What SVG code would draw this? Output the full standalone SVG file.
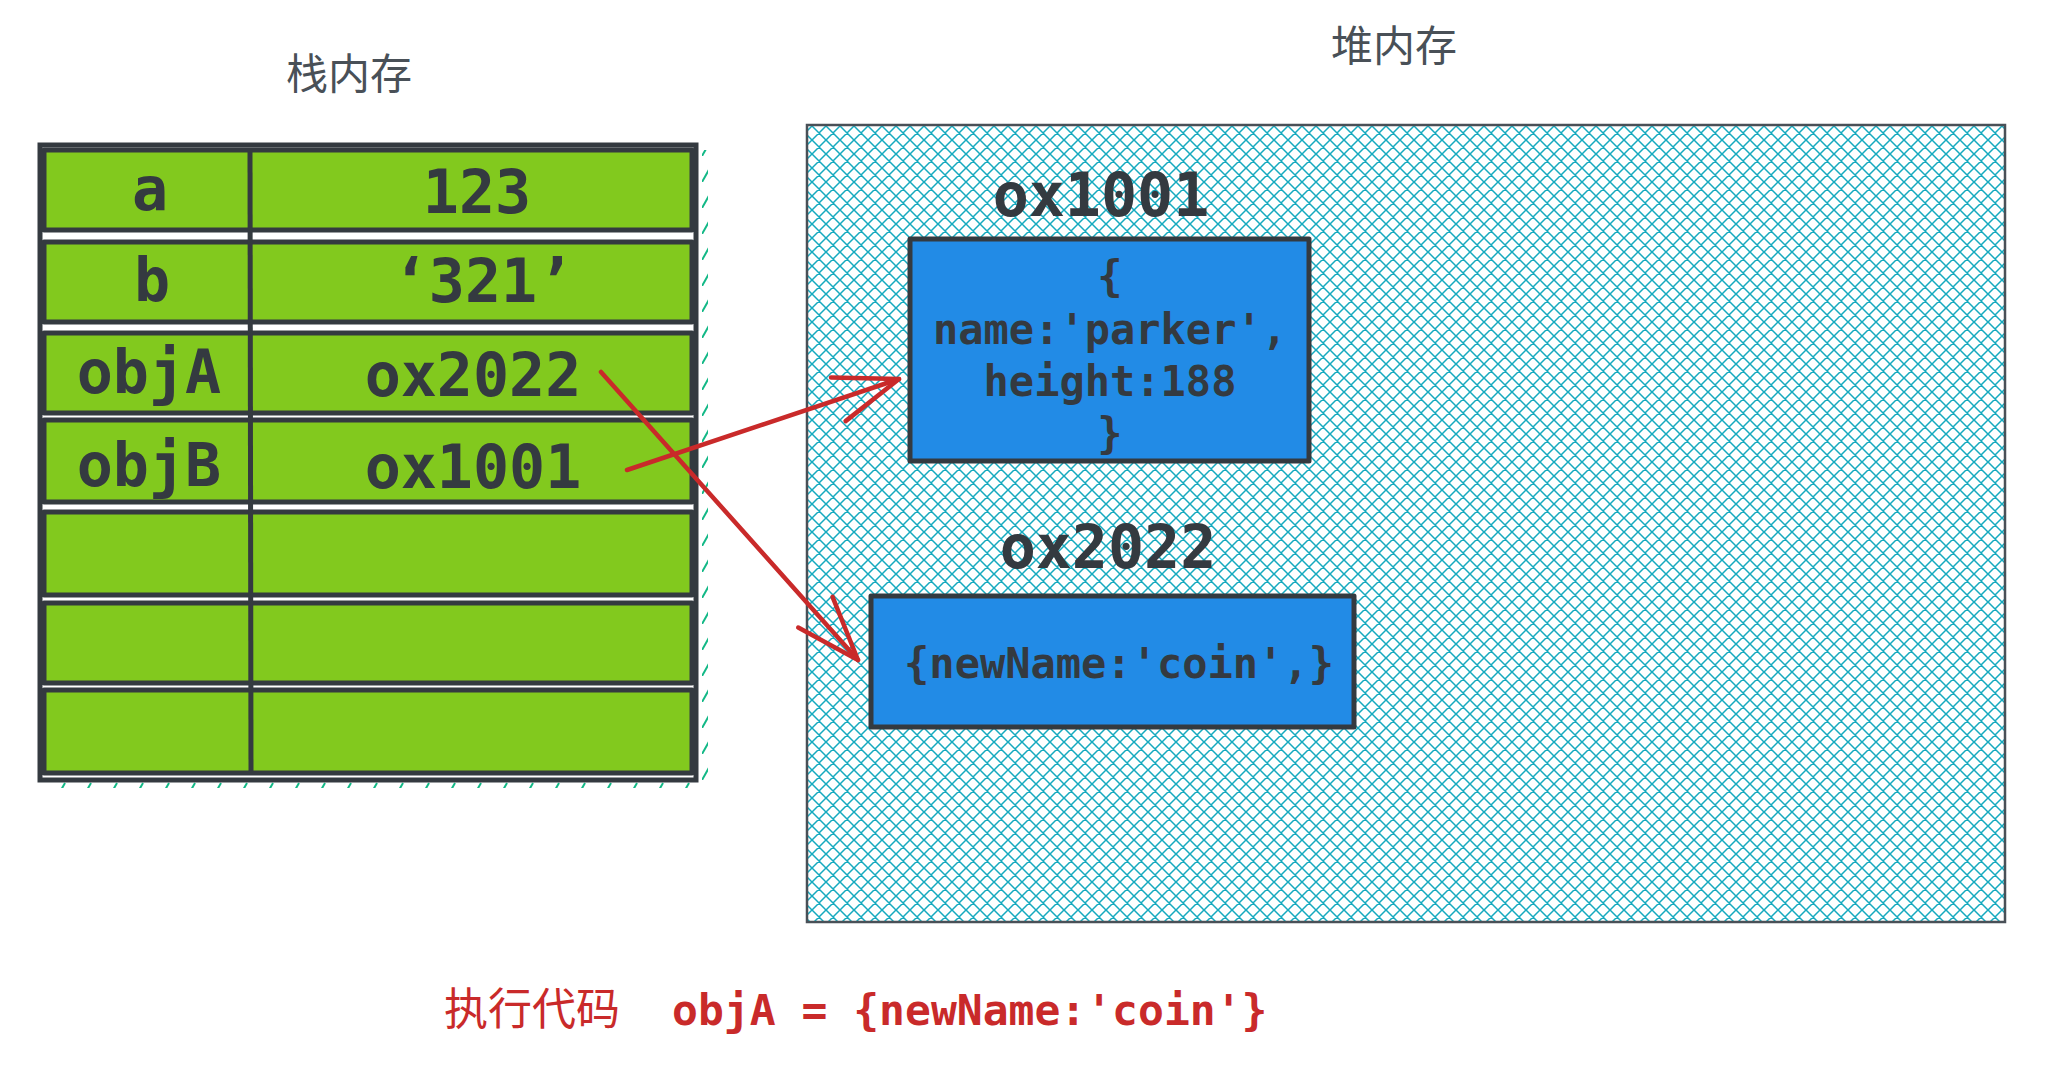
<svg xmlns="http://www.w3.org/2000/svg" width="2048" height="1070" viewBox="0 0 2048 1070">
<defs>
<style>
.mono{font-family:"DejaVu Sans Mono","Liberation Mono",monospace;fill:#343a40;text-anchor:middle;font-weight:bold}
.big{font-size:60px}
.mid{font-size:42px}
.cjk{font-family:"Noto Sans CJK SC","Noto Sans",sans-serif;font-size:42px;fill:#495057;text-anchor:middle}
.row{fill:#82c91e;stroke:#343a40;stroke-width:5;stroke-linejoin:round}
.obj{fill:#228be6;stroke:#343a40;stroke-width:5;stroke-linejoin:round}
.arrow{fill:none;stroke:#c92a2a;stroke-width:4.5;stroke-linecap:round}
.red{fill:#c92a2a}
</style>
<pattern id="xhatch" patternUnits="userSpaceOnUse" width="14" height="14">
<path d="M-1,15 L15,-1 M-1,1 L1,-1 M13,15 L15,13 M-1,-1 L15,15 M-1,13 L1,15 M13,-1 L15,1" stroke="#15aabf" stroke-width="1.5" fill="none"/>
</pattern>
<pattern id="ticks" patternUnits="userSpaceOnUse" width="26" height="26">
<path d="M0,26 L13,3" stroke="#12b886" stroke-width="2" fill="none"/>
</pattern>
<marker id="head" markerUnits="userSpaceOnUse" viewBox="-70 -30 80 60" refX="0" refY="0" markerWidth="80" markerHeight="60" orient="auto" overflow="visible">
<path d="M-64,-23 L0,0 L-64,23" fill="none" stroke="#c92a2a" stroke-width="4.5" stroke-linecap="round" stroke-linejoin="round"/>
</marker>
</defs>
<rect width="2048" height="1070" fill="#ffffff"/>

<g id="stack-label"><text class="cjk" x="349" y="89">栈内存</text></g>
<g id="heap-label"><text class="cjk" x="1394" y="61">堆内存</text></g>

<g id="stack-table">
<rect x="696" y="150" width="12" height="630" fill="url(#ticks)"/>
<rect x="40" y="780" width="660" height="8" fill="url(#ticks)"/>
<rect x="40" y="145" width="656" height="635" fill="#ffffff" stroke="#343a40" stroke-width="5"/>
<g id="row-a"><rect class="row" x="44" y="150" width="648" height="80"/><text class="mono big" x="150" y="210">a</text><text class="mono big" x="477" y="213">123</text></g>
<g id="row-b"><rect class="row" x="44" y="242" width="648" height="80"/><text class="mono big" x="152" y="301">b</text><text class="mono big" x="483" y="302">‘321’</text></g>
<g id="row-objA"><rect class="row" x="44" y="333" width="648" height="80"/><text class="mono big" x="149" y="393">objA</text><text class="mono big" x="473" y="396">ox2022</text></g>
<g id="row-objB"><rect class="row" x="44" y="420" width="648" height="82"/><text class="mono big" x="149" y="486">objB</text><text class="mono big" x="473" y="488">ox1001</text></g>
<g id="row-5"><rect class="row" x="44" y="512" width="648" height="83"/></g>
<g id="row-6"><rect class="row" x="44" y="603" width="648" height="80"/></g>
<g id="row-7"><rect class="row" x="44" y="690" width="648" height="83"/></g>
<path d="M250,152 L251,773" stroke="#343a40" stroke-width="5" fill="none"/>
</g>

<g id="heap">
<rect x="807" y="125" width="1198" height="797" fill="url(#xhatch)" stroke="#495057" stroke-width="2.5"/>
</g>

<g id="obj-1001">
<text class="mono big" x="1101" y="216">ox1001</text>
<rect class="obj" x="910" y="239" width="399" height="222"/>
<text class="mono mid" x="1110" y="291">{</text>
<text class="mono mid" x="1110" y="344">name:'parker',</text>
<text class="mono mid" x="1110" y="396">height:188</text>
<text class="mono mid" x="1110" y="448">}</text>
</g>

<g id="obj-2022">
<text class="mono big" x="1108" y="568">ox2022</text>
<rect class="obj" x="871" y="596" width="483" height="131"/>
<text class="mono mid" x="1119" y="678">{newName:'coin',}</text>
</g>

<g id="connectors">
<path class="arrow" d="M627,470 L899,379" marker-end="url(#head)"/>
<path class="arrow" d="M601,372 L858,660" marker-end="url(#head)"/>
</g>

<g id="code-label">
<text y="1025" style="font-size:43px"><tspan class="red" x="444" style="font-family:'Noto Sans CJK SC',sans-serif;font-size:44px">执行代码</tspan><tspan class="red" x="672" style="font-family:'DejaVu Sans Mono','Liberation Mono',monospace;font-weight:bold">objA = {newName:'coin'}</tspan></text>
</g>
</svg>
